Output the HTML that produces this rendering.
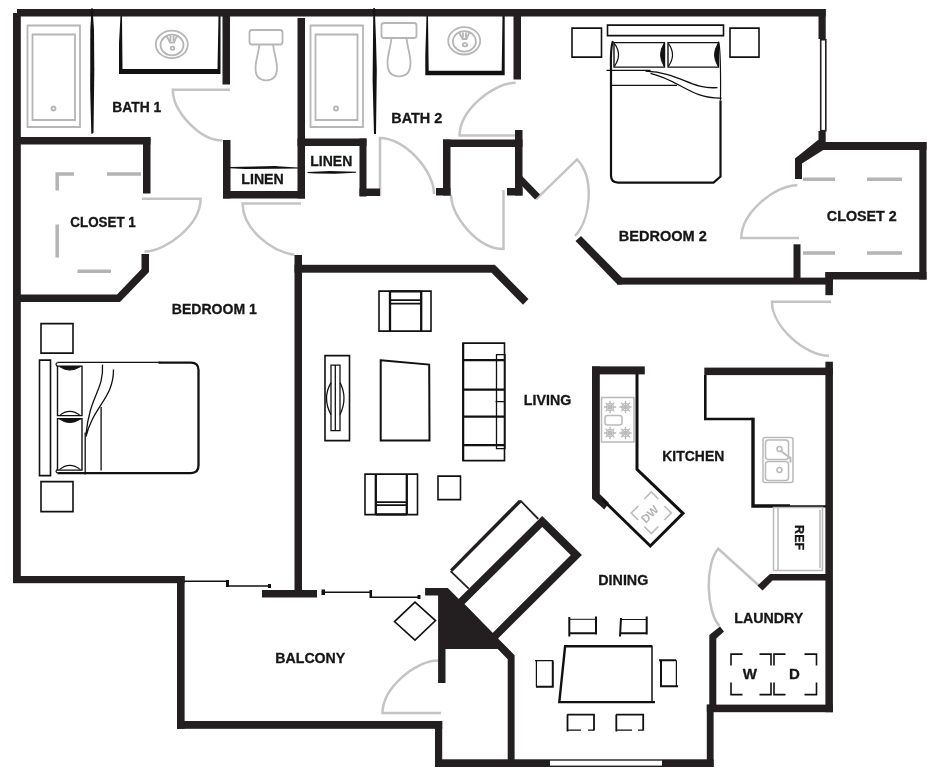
<!DOCTYPE html>
<html>
<head>
<meta charset="utf-8">
<title>Floor Plan</title>
<style>
html,body{margin:0;padding:0;background:#fff;}
body{width:938px;height:776px;overflow:hidden;}
svg{display:block;}
text{font-family:"Liberation Sans",sans-serif;font-weight:bold;fill:#151515;stroke:#151515;stroke-width:0.3;}
.w{fill:#231f20;}
.k{fill:none;stroke:#111;stroke-width:1.6;}
.k2{fill:none;stroke:#111;stroke-width:2.6;}
.g{fill:none;stroke:#c4c4c4;stroke-width:2.5;}
.g1{fill:none;stroke:#b6b6b6;stroke-width:1.8;}
.gd{fill:none;stroke:#b4b4b4;stroke-width:3.5;}
</style>
</head>
<body>
<svg width="938" height="776" viewBox="0 0 938 776">
<rect width="938" height="776" fill="#fff"/>

<!-- ===== DOORS (gray) ===== -->
<g class="g" id="doors">
<path d="M230.0 89.7 L172.8 89.7 C172.8 111.6 200.1 140.5 222.5 140.5"/>
<path d="M142.0 198.7 L200.6 198.7 C200.6 224.0 167.7 250.8 144.5 251.5"/>
<path d="M301.0 203.5 L242.6 203.5 C242.6 229.1 271.8 252.0 294.4 254.8"/>
<path d="M380.0 196.0 L380.0 138.0 C404.6 138.0 434.0 170.2 434.0 194.0"/>
<path d="M516.0 135.4 L459.6 135.4 C459.6 110.7 492.6 82.8 515.7 82.8"/>
<path d="M503.5 190.0 L503.5 249.0 C478.4 249.0 452.1 217.9 450.9 194.8"/>
<path d="M536.0 199.3 L577.0 159.4 C594.6 177.4 591.1 218.8 575.0 236.0"/>
<path d="M799.0 238.0 L741.3 238.0 C741.3 213.4 774.1 185.2 797.3 185.2"/>
<path d="M831.0 301.7 L772.0 301.7 C772.0 326.8 805.2 355.7 829.0 355.7"/>
<path d="M760.5 587.0 L718.3 548.7 C704.9 563.5 705.9 611.6 719.5 626.0"/>
<path d="M441.0 713.0 L382.5 713.0 C382.5 688.6 414.9 660.5 438.0 660.5"/>
</g>

<!-- ===== WALLS ===== -->
<g class="w" id="walls">
<rect x="17" y="9" width="808.7" height="7.5"/>
<rect x="13" y="13" width="7.8" height="570"/>
<rect x="13" y="576" width="171.6" height="7.2"/>
<rect x="177" y="576" width="7.6" height="152.8"/>
<rect x="177" y="721" width="265.2" height="7.8"/>
<rect x="435" y="721" width="7.2" height="46"/>
<rect x="435" y="759.3" width="278.6" height="7.7"/>
<rect x="706.8" y="704.6" width="6.8" height="62.4"/>
<rect x="706.8" y="704.6" width="126.1" height="7.6"/>
<rect x="825.4" y="361.7" width="7.5" height="350.5"/>
<rect x="825.4" y="272" width="7.5" height="23.2"/>
<!-- closet 2 -->
<rect x="825.4" y="272" width="101.1" height="7.5"/>
<rect x="919.3" y="142" width="7.2" height="137.5"/>
<rect x="818" y="142" width="108.5" height="8"/>
<rect x="818.5" y="9" width="7.2" height="30"/>
<rect x="818.5" y="130.5" width="7.2" height="12.5"/>
<polygon points="818,140 795,158.5 795,179 802,179 802,163.5 824,149.5 824,142"/>
<rect x="793.5" y="244.3" width="7" height="34"/>
<!-- bedroom 2 bottom -->
<rect x="617" y="277.6" width="215.9" height="7"/>
<polygon points="581,236 622,277.6 622,284.6 617.500,284.6 575.500,241"/>
<!-- living top -->
<rect x="294.5" y="264.8" width="200.3" height="7.9"/>
<polygon points="494.8,264.8 528.5,299 523,304.800 491.5,272.7"/>
<rect x="294.5" y="255" width="7.5" height="336"/>
<rect x="262" y="590" width="55" height="7.5"/>
<!-- bath 1 / closet 1 -->
<rect x="20" y="137" width="130.5" height="7.5"/>
<rect x="143" y="137" width="7.5" height="56.5"/>
<polygon points="141.5,254 149,254 149,272 120,302 20,302 20,294.5 117,294.5 141.5,269"/>
<!-- bath 1 right wall + linen 1 -->
<rect x="222.5" y="16" width="7.5" height="68.5"/>
<rect x="223" y="140" width="7.5" height="58.5"/>
<rect x="223" y="191" width="82" height="7.5"/>
<rect x="297.5" y="18" width="7.5" height="180.5"/>
<!-- bath 2 -->
<rect x="297.5" y="138.5" width="69" height="7.5"/>
<rect x="359.5" y="138.5" width="7" height="58"/>
<rect x="359.5" y="188.5" width="20.5" height="7.5"/>
<!-- small closet -->
<rect x="443" y="139.5" width="79.5" height="7.5"/>
<rect x="443" y="139.5" width="7.5" height="56"/>
<rect x="436" y="188" width="14.5" height="7.5"/>
<rect x="515" y="130" width="7.5" height="65.5"/>
<rect x="507" y="188" width="15.5" height="7.5"/>
<polygon points="522,176 522,186 535,199.5 540,194.5"/>
<rect x="513.5" y="16" width="7.5" height="63.5"/>
<!-- kitchen -->
<rect x="592" y="366.4" width="52.8" height="8"/>
<polygon points="592,366.4 599.8,366.4 599.8,494 609,503 604.3,509.5 592,498.5"/>
<rect x="704.3" y="367.6" width="128.6" height="7.5"/>
<!-- ref / laundry -->
<polygon points="770,574 832,574 832,580.5 772.5,580.5 762.5,590.5 757.5,585.5"/>
<polygon points="709.3,635 720,626.5 724,631.5 716.3,638.5 716.3,711 709.3,711"/>
<!-- fireplace -->
<polygon points="425.1,588.1 447.8,588.1 514.6,655.2 514.6,767 507.7,767 507.7,659.3 497.7,648.9 445.5,648.9 445.5,683 438.1,683 438.1,595.5 425.1,595.5"/>
</g>
<!-- fireplace box -->
<polygon points="459,604 542.2,521.5 576.4,555.1 492.6,638.4" fill="none" stroke="#231f20" stroke-width="7.8" stroke-linejoin="miter"/>
<path d="M451.2 570.6 L520.2 501" fill="none" stroke="#231f20" stroke-width="3.4"/><path d="M468.7 588.6 L450.6 571.2 M520.2 500.4 L538.3 519" fill="none" stroke="#231f20" stroke-width="1.8"/>


<!-- ===== LABELS ===== -->
<g id="labels" font-size="14.3" opacity="0.995" transform="translate(-0.7 0.1)">
<text x="113" y="112.3" textLength="49" lengthAdjust="spacingAndGlyphs">BATH 1</text>
<text x="392" y="123" textLength="51" lengthAdjust="spacingAndGlyphs">BATH 2</text>
<text x="242" y="183.6" textLength="42.500" lengthAdjust="spacingAndGlyphs">LINEN</text>
<text x="311" y="166.3" textLength="42" lengthAdjust="spacingAndGlyphs">LINEN</text>
<text x="71" y="226.6" textLength="65.500" lengthAdjust="spacingAndGlyphs">CLOSET 1</text>
<text x="172.500" y="314.2" textLength="85" lengthAdjust="spacingAndGlyphs">BEDROOM 1</text>
<text x="619.500" y="241.3" textLength="88" lengthAdjust="spacingAndGlyphs">BEDROOM 2</text>
<text x="827.500" y="220.6" textLength="70" lengthAdjust="spacingAndGlyphs">CLOSET 2</text>
<text x="524.500" y="405" textLength="47.500" lengthAdjust="spacingAndGlyphs">LIVING</text>
<text x="663" y="460.5" textLength="62" lengthAdjust="spacingAndGlyphs">KITCHEN</text>
<text x="599" y="585.3" textLength="50" lengthAdjust="spacingAndGlyphs">DINING</text>
<text x="735" y="623" textLength="69" lengthAdjust="spacingAndGlyphs">LAUNDRY</text>
<text x="276" y="663" textLength="70" lengthAdjust="spacingAndGlyphs">BALCONY</text>
<text transform="translate(796 525) rotate(90)" x="0" y="0" font-size="12.5" textLength="25" lengthAdjust="spacingAndGlyphs">REF</text>
<text x="750.500" y="679" font-size="15" text-anchor="middle">W</text>
<text x="795" y="679" font-size="15" text-anchor="middle">D</text>
<text transform="translate(650.3 514) rotate(-45)" x="0" y="4.2" font-size="11.5" text-anchor="middle" style="fill:#b4b4b4;stroke:none">DW</text>
</g>

<!-- ===== CLOSET RODS (gray dashes) ===== -->
<g class="gd" id="dashes">
<path d="M55.5 174 H74 M107 174 H141 M57.200 172.200 V190.500 M57.200 224.500 V257.500 M77.500 271.200 H111"/>
<path d="M803 179.3 H835 M867 179.3 H902 M803 253 H835 M867 253 H902"/>
</g>


<!-- ===== BATH FIXTURES ===== -->
<g class="g1" id="fixtures">
<!-- tub 1 -->
<path d="M27.500 25.500 H80 V127 H27.500 Z"/>
<path d="M32.500 34.500 H75 V120 H32.500 Z"/>
<circle cx="53.500" cy="108.500" r="2"/>
<!-- tub 2 -->
<path d="M310.500 25.500 H363 V127 H310.500 Z"/>
<path d="M315.500 34.500 H357.500 V120 H315.500 Z"/>
<circle cx="336" cy="108.500" r="2"/>
<!-- sink 1 -->
<ellipse cx="171.800" cy="44.400" rx="16" ry="13.700"/>
<ellipse cx="172" cy="45" rx="11.500" ry="10.300"/>
<ellipse cx="172.500" cy="48.300" rx="1.800" ry="1.600"/>
<path d="M166.500 35.500 L170 42.500 H174 L177 35.500 M170.500 36 V41 M173.500 36 V41"/>
<!-- sink 2 -->
<ellipse cx="464.200" cy="40.800" rx="16" ry="13.700"/>
<ellipse cx="464.400" cy="41.400" rx="11.500" ry="10.300"/>
<ellipse cx="465" cy="44.800" rx="2.300" ry="1.600"/>
<path d="M459 32 L462.500 39 H466.500 L469.500 32 M463 32.500 V37.500 M466 32.500 V37.500"/>
<!-- toilet 1 -->
<rect x="249.500" y="30" width="33" height="14.500" rx="2.500"/>
<path d="M259.500 44.500 C258 56 255.500 60 255.500 68 C255.500 77 260 80.300 266.200 80.300 C272.500 80.300 277 77 277 68 C277 60 274.500 56 273 44.500"/>
<!-- toilet 2 -->
<rect x="381.500" y="23" width="35" height="15" rx="2.500"/>
<path d="M391.500 38 C390 50 387.500 55 387.500 63 C387.500 72.500 392 76.300 399 76.300 C406 76.300 410.500 72.500 410.500 63 C410.500 55 408 50 406.500 38"/>
</g>
<!-- tub walls / vanities -->
<g id="thin" fill="#111">
<path d="M91.500 8 L92.500 8 L94 30 L94.300 70 L93.500 133 L91.300 134 L90.200 90 L90.300 30 Z"/>
<path d="M373.300 8 L374.800 8 L376 40 L376.800 70 L376 134 L374 134 L372.600 80 L373 40 Z"/>
<!-- vanity 1 -->
<path d="M120.500 16 H122 L122.500 69 H217.500 L218.500 16 H220.500 V74 H119 V43 Z"/>
<!-- vanity 2 -->
<path d="M426.500 16 H428 L428.700 70.800 H501.700 L502.500 16 H504.700 V75.200 H425.300 V55 Z"/>
<!-- linen lines -->
<path d="M230 167 L255 166.500 L275 166 L298 167.500 L298 168.500 L275 168.700 L245 169 L230 168.200 Z"/>
<path d="M307.500 172 L330 171 L356 171.800 L356 172.800 L335 173.800 L315 173.500 L307.500 173 Z"/>
</g>


<!-- ===== FURNITURE ===== -->
<g class="k" id="furniture" transform="translate(0.5 0.6)">
<!-- bedroom 1 nightstands -->
<path d="M40.500 323 H72.500 V352.500 H40.500 Z"/>
<path d="M40.500 481 H72.500 V511 H40.500 Z"/>
<!-- bed 1 -->
<path d="M39 359.500 H50 V475 H39 Z"/>
<path d="M57 361.800 H160" stroke-width="1.200"/><path d="M158 362 H190.500 Q198 362 198 369.500 V465 Q198 472.500 190.500 472.500 H57" stroke-width="2.3"/>
<path d="M57 362 Q54 363.500 57 366 M57 468.500 Q54 471 57 472.500" stroke-width="1.2"/>
<path d="M57 365.500 H81.500 V415 H57 Z M57 418 H81.500 V469.500 H57 Z" stroke-width="1.400"/>
<path d="M59 366 Q69 373 80 366 Z M59 418.500 Q69 425.500 80 418.500 Z" fill="#111" stroke-width="1"/>
<path d="M59 415 Q69 406.500 80 415 M59 469 Q69 460.500 80 469" stroke-width="1.2"/>
<path d="M102 364 C103.500 390 89 395 85.500 434 M113 369 C113 398 93 405 85.500 436" stroke-width="1.300"/>
<path d="M84.700 432 V474 M100.600 406.500 V470" stroke-width="1.300"/>
<!-- bedroom 2 nightstands -->
<path d="M571.500 27.500 H601 V56.500 H571.500 Z"/>
<path d="M729.500 27.500 H758.500 V56.500 H729.500 Z"/>
<!-- bed 2 -->
<path d="M607 24.500 H723 V35 H607 Z"/>
<path d="M612.500 40.500 Q610 46 610.500 68 V175 Q610.500 182 617.500 182 H713 L720 176 V100" stroke-width="2.200"/><path d="M718 41 Q720.500 48 720 100" stroke-width="1.200"/>
<path d="M613.500 42 H664 V66.500 H613.500 Z M667.500 42 H718 V66.500 H667.500 Z" stroke-width="1.400"/>
<path d="M663.500 43 Q656.500 54 663.500 65.500 Z M717.500 43 Q710.500 54 717.500 65.500 Z" fill="#111" stroke-width="1"/>
<path d="M614 43 Q622 54 614 65.500 M668 43 Q676 54 668 65.500" stroke-width="1.200"/>
<path d="M606 69.800 H650 M611 84.800 H676.500" stroke-width="1.300"/>
<path d="M645 70.500 C680 72 690 89 717 87 M650 72.800 C680 80 690 98 721 97.500" stroke-width="1.300"/>
<!-- living: armchair top -->
<path d="M378.500 290.500 H430.500 V330.500 H378.500 Z"/>
<path d="M389.500 290.500 V330.500 M420.700 290.500 V330.500 M389.500 290.700 H420.700" stroke-width="2.300"/><path d="M389.500 299.500 H420.700 M389.500 303 H420.700"/>
<!-- tv stand -->
<path d="M324.500 355 H349 V440 H324.500 Z"/>
<path d="M330.500 364.500 H339.500 V430 H330.500 Z M334.800 364.500 V430" stroke-width="1.300"/>
<path d="M330.500 382 Q321.500 397.500 330.500 414 M339.500 382 Q347.500 397.500 339.500 414" stroke-width="1.300"/>
<!-- coffee table -->
<path d="M380.200 359.700 L428.700 364 L429 440 H380.200 Z" stroke-width="2"/>
<!-- sofa -->
<path d="M462.500 342.500 H504 V460 H462.500 Z"/>
<path d="M462.500 359.500 H504 M462.500 389 H504 M462.500 416 H504 M462.500 444.500 H504 M462.700 342.500 V460" stroke-width="2.100"/>
<path d="M496 354 H504.500 V448 H496 Z M495 401 H504" stroke-width="1.300"/>
<!-- armchair bottom -->
<path d="M364.500 473.500 H417 V514 H364.500 Z"/>
<path d="M375.300 473.500 V514 M406.300 473.500 V514 M375.300 513.800 H406.300" stroke-width="2.300"/><path d="M375.300 501.500 H406.300 M375.300 504.500 H406.300"/>
<!-- side table -->
<path d="M437.500 475.500 H460 V499 H437.500 Z"/>
<!-- dining table -->
<g transform="translate(-0.5 -0.6)">
<path d="M652 646.300 H565.100 L559.300 702.100 H655" stroke-width="2.400"/>
<path d="M652 645.500 V702" stroke-width="1.500"/>
<!-- dining chairs -->
<path d="M569.300 617 V636.500 M569 633.200 H596 M596 616.500 V634.500" stroke-width="2"/><path d="M569 619.300 H596" stroke-width="1"/>
<path d="M621 618 L620 636.500 M620 633.200 H646.700 M646.700 616.500 V634.500" stroke-width="2"/><path d="M620.500 619.500 H646.700" stroke-width="1"/>
<path d="M567.200 714.600 H594 V730.500 M567.500 714.600 V731.500" stroke-width="1.800"/><path d="M567.200 730.200 H581 M588 730.200 H594" stroke-width="1.300"/>
<path d="M616 714.600 H643.200 V730.500 M616.300 714.600 V731.500" stroke-width="1.800"/><path d="M616 730.200 H632 M638 730.200 H643.200" stroke-width="1.300"/>
<path d="M552.800 660.400 V686.800 H536" stroke-width="2"/><path d="M535 660.600 H552.800 M536.400 660.600 V686.800" stroke-width="1.200"/>
<path d="M659 660.200 H676 M661 660.200 V686.300 H678" stroke-width="2"/><path d="M676.400 660.200 V686.300" stroke-width="1.200"/>
</g>
<!-- balcony table -->
<path d="M414.500 601.500 L435 620 L414.500 639.500 L394 621 Z"/>
<!-- W / D brackets -->
<path d="M742 653.500 H730.500 V665 M759 653.500 H770.500 V665 M730.500 682 V694 H742 M759 694 H770.500 V682"/>
<path d="M785 653.500 H773.500 V665 M804 653.500 H816 V665 M773.500 682 V694 H785 M804 694 H816 V682"/>
</g>
<!-- sliding doors -->
<g class="k" id="sliders" stroke-width="1.400">
<path d="M184 581.300 H227 M227 586 H270"/>
<path d="M226 580 H229 V587 H226 Z M268 584 H271 V588 H268 Z" fill="#111" stroke="none"/>
<path d="M322 592.300 H371 M371 597.300 H420"/>
<path d="M321.500 589.500 H325 V595 H321.500 Z M369.500 590 H372 V598 H369.500 Z M417.500 595 H420.500 V599 H417.500 Z" fill="#111" stroke="none"/>
</g>

<!-- ===== KITCHEN ===== -->
<g class="k2" id="kitchen">
<path d="M637 374 V469.3 L683 513.3 L650.3 546 L602 499" stroke-width="3"/>
<path d="M705.3 375 V419 H753" stroke-width="2.600"/><path d="M753 417.700 V506 H790" stroke-width="3.400"/><path d="M788 506.400 H826" stroke-width="2.400"/>
</g>
<g class="g1" id="kitchenfix" style="stroke:#bbb;stroke-width:1.55">
<!-- stove -->
<rect x="601.500" y="397.500" width="32.500" height="44.500"/>
<rect x="605" y="415.500" width="17" height="9.500" rx="2.500"/>
<g stroke-width="1.300">
<circle cx="610.0" cy="407.0" r="3.6"/><circle cx="610.0" cy="407.0" r="1.4"/><path d="M603.8 407.0 L616.2 407.0 M605.6 402.6 L614.4 411.4 M610.0 400.8 L610.0 413.2 M614.4 402.6 L605.6 411.4"/>
<circle cx="625.5" cy="407.0" r="3.6"/><circle cx="625.5" cy="407.0" r="1.4"/><path d="M619.3 407.0 L631.7 407.0 M621.1 402.6 L629.9 411.4 M625.5 400.8 L625.5 413.2 M629.9 402.6 L621.1 411.4"/>
<circle cx="610.0" cy="433.0" r="3.6"/><circle cx="610.0" cy="433.0" r="1.4"/><path d="M603.8 433.0 L616.2 433.0 M605.6 428.6 L614.4 437.4 M610.0 426.8 L610.0 439.2 M614.4 428.6 L605.6 437.4"/>
<circle cx="625.5" cy="433.0" r="3.6"/><circle cx="625.5" cy="433.0" r="1.4"/><path d="M619.3 433.0 L631.7 433.0 M621.1 428.6 L629.9 437.4 M625.5 426.8 L625.5 439.2 M629.9 428.6 L621.1 437.4"/>
</g>
<!-- sink -->
<rect x="763" y="437.5" width="30" height="45" rx="2"/>
<rect x="765.500" y="440" width="23" height="19.500" rx="3"/>
<rect x="765.500" y="461.5" width="23" height="19" rx="3"/>
<circle cx="779.500" cy="449" r="2.500"/><circle cx="779.500" cy="470" r="2.500"/>
<path d="M780 450.500 L790.500 458 V462.500" stroke-width="2"/>
<!-- ref -->
<path d="M773.500 507.500 H822.500 V570.500 H773.500 Z M778 507.500 V570.500 M820 510 V568"/>
<!-- DW brackets -->
<path transform="translate(1.3 -1)" d="M643 500 L650 493 L657 500 M663 507 L670 514 L663 521 M657 527.500 L650 534.500 L643 527.500 M637 521 L630 514 L637 507" stroke-width="1.700"/>
</g>

<!-- windows -->
<rect x="550" y="760.7" width="112" height="4.9" fill="#fff"/>
<rect x="817.5" y="39" width="9.5" height="92" fill="#fff"/><rect x="820.7" y="39.7" width="5.100" height="91" fill="#fff" stroke="#231f20" stroke-width="1.600"/>

</svg>
</body>
</html>
